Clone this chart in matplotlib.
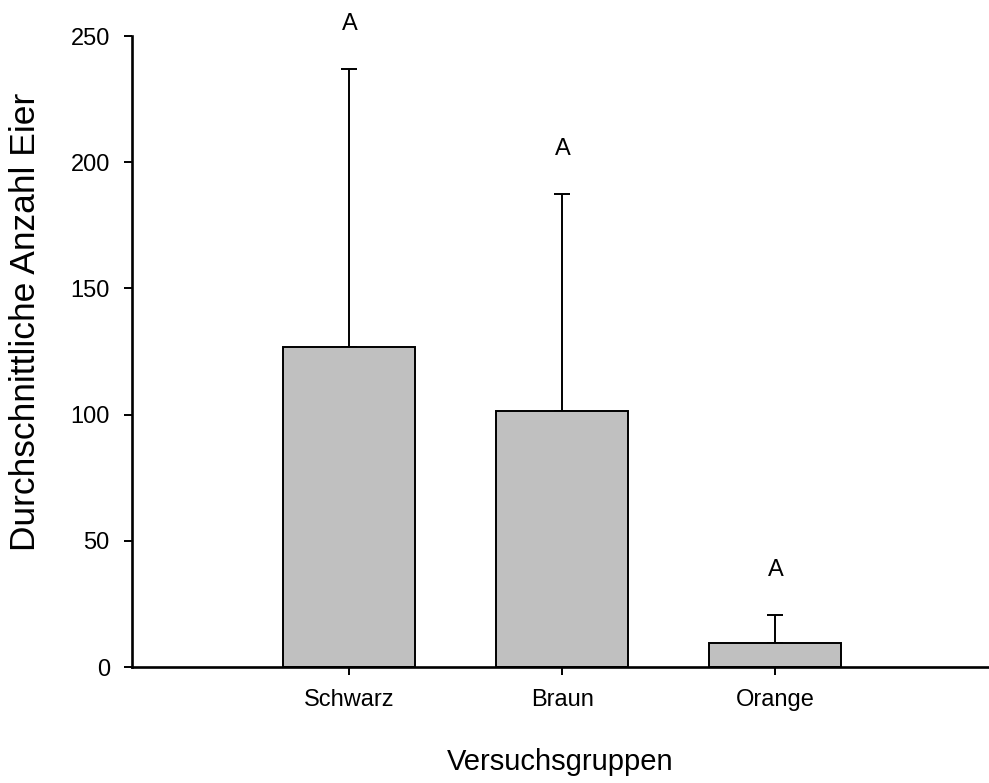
import matplotlib
matplotlib.use("Agg")
import matplotlib.pyplot as plt
import numpy as np

# Mittelwerte und Standardabweichungen je Gruppe
gruppen = ["Schwarz", "Braun", "Orange"]
mittelwerte = [126.7, 101.5, 9.5]
std_abw = [110.1, 85.9, 11.1]
buchstaben = ["A", "A", "A"]

plt.rcParams["font.family"] = ["Liberation Sans", "DejaVu Sans"]

fig = plt.figure(figsize=(9.89, 7.83), dpi=100)
ax = fig.add_axes([0.1335, 0.148, 0.866, 0.806])

pos = np.arange(1, len(gruppen) + 1)
ax.bar(pos, mittelwerte, width=0.62, color="#c0c0c0", edgecolor="black",
       linewidth=1.4, zorder=2)
ax.errorbar(pos, mittelwerte, yerr=[np.zeros(len(std_abw)), std_abw],
            fmt="none", ecolor="black", elinewidth=1.4, capsize=6,
            capthick=1.4, zorder=1)

for x, m, s, b in zip(pos, mittelwerte, std_abw, buchstaben):
    ax.text(x, m + s + 18, b, ha="center", va="center", fontsize=17)

ax.set_xlim(-0.02, 4.0)
ax.set_ylim(0, 250)
ax.set_yticks([0, 50, 100, 150, 200, 250])
ax.set_xticks(pos)
ax.set_xticklabels(gruppen)

for side in ["top", "right"]:
    ax.spines[side].set_visible(False)
for side in ["left", "bottom"]:
    ax.spines[side].set_linewidth(1.9)

ax.tick_params(axis="both", direction="out", length=6, width=1.4,
               labelsize=17, pad=10)

ax.set_xlabel("Versuchsgruppen", fontsize=21, va="top")
ax.xaxis.set_label_coords(0.5, -0.128)
ax.set_ylabel("Durchschnittliche Anzahl Eier", fontsize=25.5)
ax.yaxis.set_label_coords(-0.105, 0.547)

fig.savefig("out.png", dpi=100)
